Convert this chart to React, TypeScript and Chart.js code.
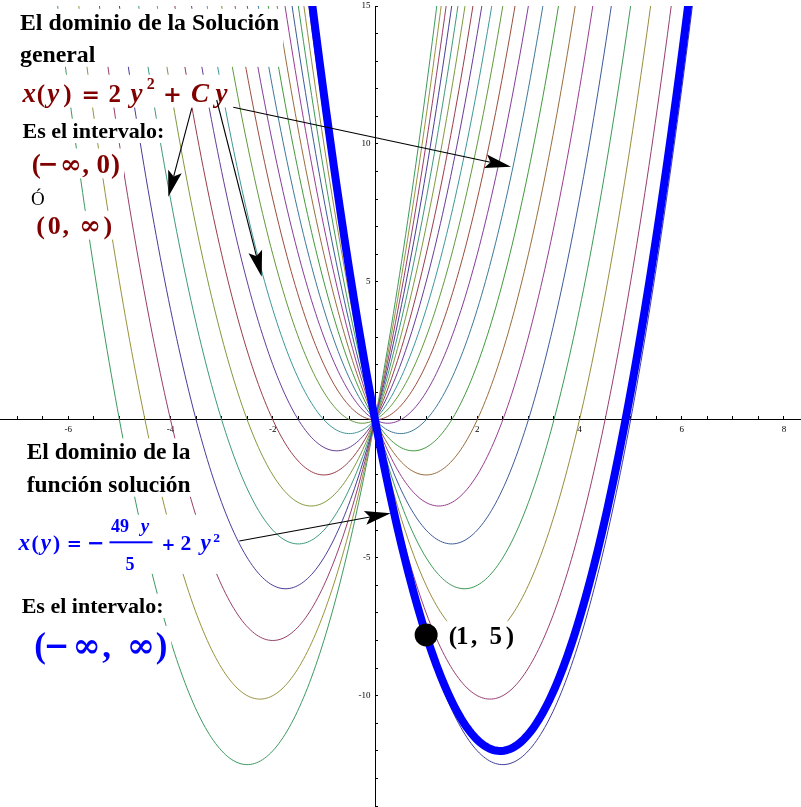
import React, { useEffect, useRef } from 'react';
import { Chart, registerables } from 'chart.js';

Chart.register(...registerables);

// ---------------- data ----------------
const xTickLabels = ['-6', '-4', '-2', '2', '4', '6', '8'];
const yTickLabels = ['-10', '-5', '5', '10', '15'];
// constants C of the family x(y) = 2 y^2 + C y
const familyConstants = [-10, -9, -8, -7, -6, -5, -4, -3, -2, -1, 0, 1, 2, 3, 4, 5, 6, 7, 8, 9, 10];
// particular solution x(y) = -49 y / 5 + 2 y^2
const solutionConstant = -9.8;
const markedPoint = [{ x: 1, y: -7.8 }];
// sampled domain of the independent variable y (horizontal axis)
const domainStart = -7.4;
const domainEnd = 8.4;
const domainStep = 0.04;

// ---------------- axes ----------------
const X_MIN = -7.336;
const X_MAX = 8.333;
const Y_MIN = -14;
const Y_MAX = 15;

// ---------------- styles ----------------
const palette = [
  'rgb(63,61,153)', 'rgb(153,61,113)', 'rgb(153,140,61)', 'rgb(61,153,86)', 'rgb(61,90,153)',
  'rgb(153,61,144)', 'rgb(153,109,61)', 'rgb(67,153,61)', 'rgb(61,121,153)', 'rgb(132,61,153)',
  'rgb(153,78,61)', 'rgb(98,153,61)', 'rgb(61,151,153)', 'rgb(101,61,153)', 'rgb(153,61,75)',
  'rgb(128,153,61)', 'rgb(61,153,124)', 'rgb(71,61,153)', 'rgb(153,61,105)', 'rgb(153,147,61)',
  'rgb(61,153,94)',
];
const SERIF = '"Liberation Serif", "Times New Roman", Times, serif';
const MATH = '"DejaVu Serif", "Liberation Serif", serif';
const DARK_RED = '#800000';
const BLUE = '#0000ff';

function sampleDomain(): number[] {
  const out: number[] = [];
  for (let i = 0; ; i++) {
    const t = domainStart + i * domainStep;
    if (t > domainEnd + 1e-9) break;
    out.push(Math.round(t * 10000) / 10000);
  }
  return out;
}

function familyCurve(c: number, ts: number[]) {
  return ts.map((t) => ({ x: t, y: 2 * t * t + c * t }));
}

// ---------------- annotations ----------------
type Piece = { s: string; x: number; y: number; size: number; it?: boolean; reg?: boolean; center?: boolean; math?: boolean };
type Bar = { x1: number; x2: number; y: number; h: number };
type Block = { color: string; pieces: Piece[]; bars?: Bar[] };

const C = true;
const blocks: Block[] = [
  {
    color: '#000',
    pieces: [
      { s: 'El dominio de la Solución', x: 20, y: 30, size: 23.8 },
      { s: 'general', x: 20, y: 61.7, size: 23.8 },
    ],
  },
  {
    color: DARK_RED,
    pieces: [
      { s: 'x', x: 29.2, y: 101.7, size: 27, it: true, center: C },
      { s: '(', x: 40.8, y: 101.7, size: 25, center: C },
      { s: 'y', x: 53.3, y: 101.7, size: 27, it: true, center: C },
      { s: ')', x: 67.3, y: 101.7, size: 25, center: C },
      { s: '=', x: 90.8, y: 101.7, size: 22, center: C, math: true },
      { s: '2', x: 114.8, y: 101.7, size: 25, center: C },
      { s: 'y', x: 136.5, y: 101.7, size: 27, it: true, center: C },
      { s: '2', x: 150.8, y: 89, size: 16, center: C },
      { s: '+', x: 172.5, y: 101.7, size: 22.5, center: C, math: true },
      { s: 'C', x: 200, y: 101.7, size: 27, it: true, center: C },
      { s: 'y', x: 221.5, y: 101.7, size: 27, it: true, center: C },
    ],
  },
  { color: '#000', pieces: [{ s: 'Es el intervalo:', x: 22.5, y: 138.3, size: 22 }] },
  {
    color: DARK_RED,
    pieces: [
      { s: '(', x: 36.3, y: 172.5, size: 27, center: C },
      { s: '\u2212', x: 48.3, y: 171.5, size: 25, center: C, math: true },
      { s: '\u221E', x: 70.8, y: 172.5, size: 26, center: C, math: true },
      { s: ',', x: 85.5, y: 172.5, size: 27, center: C },
      { s: '0', x: 103.3, y: 172.5, size: 27, center: C },
      { s: ')', x: 115.5, y: 172.5, size: 27, center: C },
    ],
  },
  { color: '#000', pieces: [{ s: 'Ó', x: 37.8, y: 205, size: 19, reg: true, center: C }] },
  {
    color: DARK_RED,
    pieces: [
      { s: '(', x: 40.5, y: 234, size: 26, center: C },
      { s: '0', x: 54.2, y: 234, size: 26, center: C },
      { s: ',', x: 65.7, y: 234, size: 26, center: C },
      { s: '\u221E', x: 90, y: 234, size: 26, center: C, math: true },
      { s: ')', x: 107.8, y: 234, size: 26, center: C },
    ],
  },
  {
    color: '#000',
    pieces: [
      { s: 'El dominio de la', x: 26.7, y: 459.3, size: 23.5 },
      { s: 'función solución', x: 26.7, y: 491.7, size: 23.5 },
    ],
  },
  {
    color: BLUE,
    pieces: [
      { s: 'x', x: 24.2, y: 550, size: 23, it: true, center: C },
      { s: '(', x: 35, y: 550, size: 21.5, center: C },
      { s: 'y', x: 45.8, y: 550, size: 23, it: true, center: C },
      { s: ')', x: 56.7, y: 550, size: 21.5, center: C },
      { s: '=', x: 74.2, y: 550, size: 18, center: C, math: true },
      { s: '\u2212', x: 95.8, y: 549.5, size: 21, center: C, math: true },
      { s: '49', x: 120, y: 531.7, size: 18, center: C },
      { s: 'y', x: 145, y: 531.7, size: 19, it: true, center: C },
      { s: '5', x: 130, y: 570, size: 18, center: C },
      { s: '+', x: 168.3, y: 550, size: 16.5, center: C, math: true },
      { s: '2', x: 185.8, y: 550, size: 21.5, center: C },
      { s: 'y', x: 205.5, y: 550, size: 23, it: true, center: C },
      { s: '2', x: 216.7, y: 542, size: 13.5, center: C },
    ],
    bars: [{ x1: 109.5, x2: 152.5, y: 542.3, h: 2 }],
  },
  { color: '#000', pieces: [{ s: 'Es el intervalo:', x: 21.7, y: 613.3, size: 22 }] },
  {
    color: BLUE,
    pieces: [
      { s: '(', x: 40, y: 657, size: 35, center: C },
      { s: '\u2212', x: 56.7, y: 656, size: 31, center: C, math: true },
      { s: '\u221E', x: 86.7, y: 657, size: 34, center: C, math: true },
      { s: ',', x: 106.5, y: 657, size: 35, center: C },
      { s: '\u221E', x: 141, y: 657, size: 34, center: C, math: true },
      { s: ')', x: 161.5, y: 657, size: 35, center: C },
    ],
  },
  {
    color: '#000',
    pieces: [
      { s: '(', x: 452.8, y: 643.5, size: 25, center: C },
      { s: '1', x: 462.3, y: 643.5, size: 25, center: C },
      { s: ',', x: 474, y: 643.5, size: 25, center: C },
      { s: '5', x: 495.8, y: 643.5, size: 25, center: C },
      { s: ')', x: 510, y: 643.5, size: 25, center: C },
    ],
  },
];

const arrows = [
  [233.3, 107.3, 511, 166.7],
  [191.7, 108.3, 168.3, 196.7],
  [216.7, 100, 261.7, 276.7],
  [239.3, 541, 390.7, 513.3],
];

function fontOf(p: Piece) {
  return `${p.it ? 'italic ' : ''}${p.reg ? '' : 'bold '}${p.size}px ${p.math ? MATH : SERIF}`;
}

function drawBlock(ctx: CanvasRenderingContext2D, b: Block) {
  let l = Infinity, r = -Infinity, t = Infinity, btm = -Infinity;
  for (const p of b.pieces) {
    ctx.font = fontOf(p);
    const w = ctx.measureText(p.s).width;
    const x0 = p.center ? p.x - w / 2 : p.x;
    l = Math.min(l, x0);
    r = Math.max(r, x0 + w);
    const sz = p.math ? Math.min(p.size, 22) : p.size;
    t = Math.min(t, p.y - 0.891 * sz);
    btm = Math.max(btm, p.y + 0.216 * sz);
  }
  ctx.fillStyle = '#fff';
  ctx.fillRect(l - 4, t, r - l + 8, btm - t);
  ctx.fillStyle = b.color;
  ctx.textBaseline = 'alphabetic';
  for (const p of b.pieces) {
    ctx.font = fontOf(p);
    ctx.textAlign = p.center ? 'center' : 'left';
    ctx.fillText(p.s, p.x, p.y);
  }
  for (const bar of b.bars || []) {
    ctx.fillRect(bar.x1, bar.y - bar.h / 2, bar.x2 - bar.x1, bar.h);
  }
}

function drawArrow(ctx: CanvasRenderingContext2D, x1: number, y1: number, x2: number, y2: number) {
  const a = Math.atan2(y2 - y1, x2 - x1);
  const cs = Math.cos(a), sn = Math.sin(a);
  const L = 26, W = 7, N = 5;
  const bx = x2 - L * cs, by = y2 - L * sn;
  const nx = x2 - (L - N) * cs, ny = y2 - (L - N) * sn;
  ctx.strokeStyle = '#000';
  ctx.lineWidth = 1.1;
  ctx.beginPath();
  ctx.moveTo(x1, y1);
  ctx.lineTo(nx, ny);
  ctx.stroke();
  ctx.fillStyle = '#000';
  ctx.beginPath();
  ctx.moveTo(x2, y2);
  ctx.lineTo(bx - W * sn, by + W * cs);
  ctx.lineTo(nx, ny);
  ctx.lineTo(bx + W * sn, by - W * cs);
  ctx.closePath();
  ctx.fill();
}

const annotationPlugin = {
  id: 'annotationsLayer',
  beforeDraw(chart: any) {
    const ctx = chart.ctx;
    ctx.save();
    ctx.fillStyle = '#fff';
    ctx.fillRect(0, 0, chart.width, chart.height);
    ctx.restore();
  },
  afterDraw(chart: any) {
    const ctx: CanvasRenderingContext2D = chart.ctx;
    ctx.save();
    for (const b of blocks) drawBlock(ctx, b);
    for (const a of arrows) drawArrow(ctx, a[0], a[1], a[2], a[3]);
    ctx.restore();
  },
};

function findLabel(list: string[], value: number) {
  return list.find((s) => Math.abs(Number(s) - value) < 1e-9);
}

export default function App() {
  const ref = useRef<HTMLCanvasElement>(null);
  useEffect(() => {
    const canvas = ref.current;
    if (!canvas) return;
    const ts = sampleDomain();
    const datasets: any[] = [
      {
        label: '(1, 5)',
        data: markedPoint,
        showLine: false,
        pointRadius: 11.5,
        pointBackgroundColor: '#000',
        pointBorderColor: '#000',
        pointBorderWidth: 0,
        order: 0,
        clip: 0,
      },
      {
        label: 'x(y) = -49y/5 + 2y^2',
        data: familyCurve(solutionConstant, ts),
        showLine: true,
        borderColor: BLUE,
        borderWidth: 8,
        pointRadius: 0,
        order: 1,
        clip: 0,
      },
      ...familyConstants.map((c, i) => ({
        label: `C = ${c}`,
        data: familyCurve(c, ts),
        showLine: true,
        borderColor: palette[i % palette.length],
        borderWidth: 1,
        pointRadius: 0,
        order: 2,
        clip: 0,
      })),
    ];
    const tickFont = { family: SERIF, size: 9 };
    const chart = new Chart(canvas, {
      type: 'scatter',
      data: { datasets },
      options: {
        responsive: false,
        maintainAspectRatio: false,
        animation: false,
        devicePixelRatio: 1,
        events: [],
        layout: { autoPadding: false, padding: { top: 6, bottom: 1, left: 0, right: 0 } },
        plugins: { legend: { display: false }, tooltip: { enabled: false }, title: { display: false } },
        scales: {
          x: {
            type: 'linear',
            min: X_MIN,
            max: X_MAX,
            position: { y: 0 } as any,
            border: { display: true, color: '#000', width: 1 },
            grid: { display: true, drawOnChartArea: false, drawTicks: true, tickLength: -4, tickColor: '#000', tickWidth: 1 },
            ticks: {
              stepSize: 0.5,
              autoSkip: false,
              includeBounds: false,
              maxRotation: 0,
              minRotation: 0,
              padding: 8,
              color: '#000',
              font: tickFont,
              callback: (v: any) => findLabel(xTickLabels, Number(v)) ?? '',
            },
            afterFit: (s: any) => {
              s.paddingLeft = 0; s.paddingRight = 0; s.paddingTop = 0; s.paddingBottom = 0;
            },
          },
          y: {
            type: 'linear',
            min: Y_MIN,
            max: Y_MAX,
            position: { x: 0 } as any,
            border: { display: true, color: '#000', width: 1 },
            grid: { display: true, drawOnChartArea: false, drawTicks: true, tickLength: -3, tickColor: '#000', tickWidth: 1 },
            ticks: {
              stepSize: 1,
              autoSkip: false,
              includeBounds: false,
              padding: 4,
              color: '#000',
              font: tickFont,
              callback: (v: any) => {
                const l = findLabel(yTickLabels, Number(v));
                return l ? l + '  ' : '';
              },
            },
            afterFit: (s: any) => {
              s.paddingLeft = 0; s.paddingRight = 0; s.paddingTop = 0; s.paddingBottom = 0;
            },
          },
        },
      } as any,
      plugins: [annotationPlugin],
    });
    return () => chart.destroy();
  }, []);
  return (
    <div style={{ position: 'absolute', left: 0, top: 0, width: 801, height: 807, background: '#fff' }}>
      <canvas ref={ref} width={801} height={807} style={{ display: 'block', width: 801, height: 807 }} />
    </div>
  );
}
